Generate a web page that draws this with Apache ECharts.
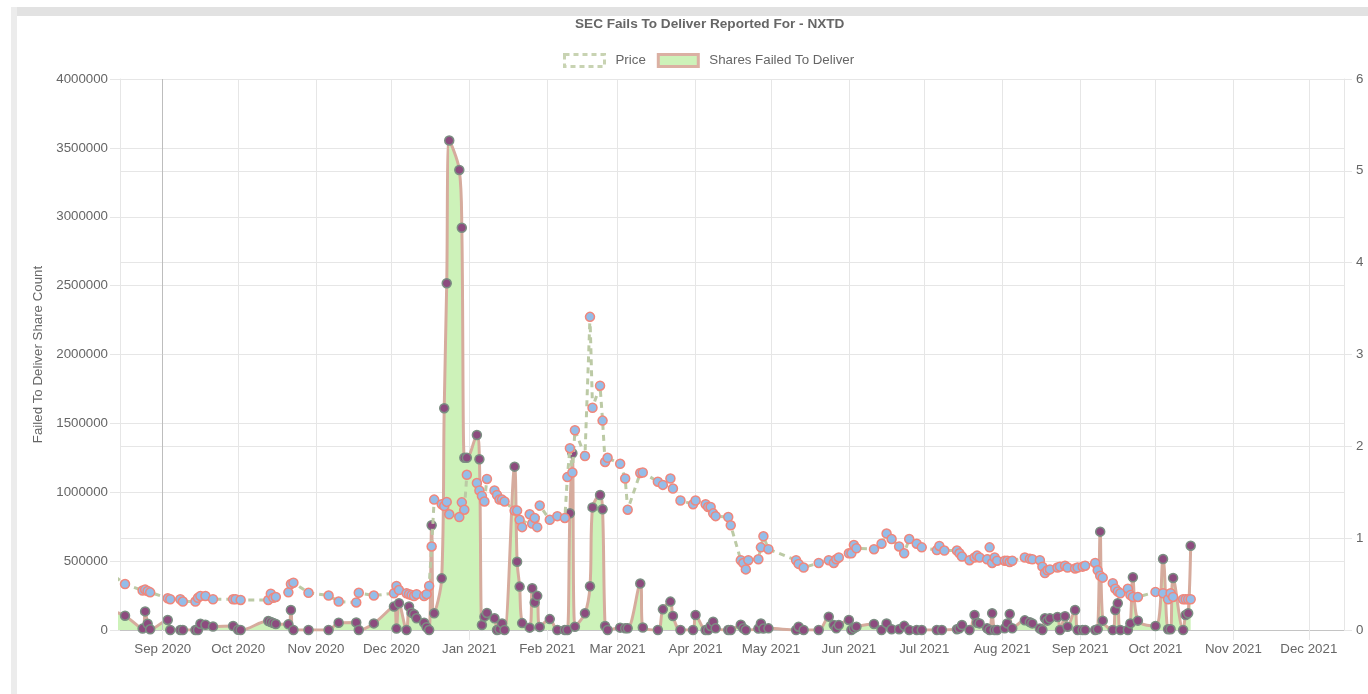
<!DOCTYPE html>
<html>
<head>
<meta charset="utf-8">
<script src="https://cdn.jsdelivr.net/npm/echarts@6/dist/echarts.min.js"></script>
<style>
html,body{margin:0;padding:0;background:#fff;}
#wrap{position:relative;width:1368px;height:694px;overflow:hidden;}
#topband{position:absolute;left:11px;top:7px;width:1357px;height:9px;background:#e2e2e2;}
#leftband{position:absolute;left:11px;top:7px;width:6px;height:687px;background:#ececec;}
#chart{position:absolute;left:0;top:0;width:1368px;height:694px;}
</style>
</head>
<body>
<div id="wrap"><div id="topband"></div><div id="leftband"></div><div id="chart"></div></div>
<script>
const chartTitle = 'SEC Fails To Deliver Reported For - NXTD';
const yAxisName = 'Failed To Deliver Share Count';
const monthNames = ['Jan','Feb','Mar','Apr','May','Jun','Jul','Aug','Sep','Oct','Nov','Dec'];
const xMin = '2020-08-15';
const xMax = '2021-12-15';
const referenceLineDate = '2020-09-01';

const ftdDates = ['2020-08-13','2020-08-17','2020-08-24','2020-08-25','2020-08-26','2020-08-27','2020-09-03','2020-09-04','2020-09-08','2020-09-09','2020-09-14','2020-09-15','2020-09-16','2020-09-18','2020-09-21','2020-09-29','2020-10-01','2020-10-02','2020-10-13','2020-10-14','2020-10-15','2020-10-16','2020-10-21','2020-10-22','2020-10-23','2020-10-29','2020-11-06','2020-11-10','2020-11-17','2020-11-18','2020-11-24','2020-12-02','2020-12-03','2020-12-04','2020-12-07','2020-12-08','2020-12-09','2020-12-10','2020-12-11','2020-12-14','2020-12-15','2020-12-16','2020-12-17','2020-12-18','2020-12-21','2020-12-22','2020-12-23','2020-12-24','2020-12-28','2020-12-29','2020-12-30','2020-12-31','2021-01-04','2021-01-05','2021-01-06','2021-01-07','2021-01-08','2021-01-11','2021-01-12','2021-01-13','2021-01-14','2021-01-15','2021-01-19','2021-01-20','2021-01-21','2021-01-22','2021-01-25','2021-01-26','2021-01-27','2021-01-28','2021-01-29','2021-02-02','2021-02-05','2021-02-08','2021-02-09','2021-02-10','2021-02-11','2021-02-12','2021-02-16','2021-02-18','2021-02-19','2021-02-22','2021-02-23','2021-02-24','2021-02-25','2021-03-02','2021-03-04','2021-03-05','2021-03-10','2021-03-11','2021-03-17','2021-03-19','2021-03-22','2021-03-23','2021-03-26','2021-03-31','2021-04-01','2021-04-05','2021-04-06','2021-04-07','2021-04-08','2021-04-09','2021-04-14','2021-04-15','2021-04-19','2021-04-20','2021-04-21','2021-04-26','2021-04-27','2021-04-28','2021-04-30','2021-05-11','2021-05-12','2021-05-14','2021-05-20','2021-05-24','2021-05-26','2021-05-27','2021-05-28','2021-06-01','2021-06-02','2021-06-03','2021-06-04','2021-06-11','2021-06-14','2021-06-16','2021-06-18','2021-06-21','2021-06-23','2021-06-25','2021-06-28','2021-06-30','2021-07-06','2021-07-08','2021-07-14','2021-07-15','2021-07-16','2021-07-19','2021-07-21','2021-07-22','2021-07-23','2021-07-26','2021-07-27','2021-07-28','2021-07-29','2021-07-30','2021-08-02','2021-08-03','2021-08-04','2021-08-05','2021-08-10','2021-08-12','2021-08-13','2021-08-16','2021-08-17','2021-08-18','2021-08-19','2021-08-20','2021-08-23','2021-08-24','2021-08-26','2021-08-27','2021-08-30','2021-08-31','2021-09-02','2021-09-03','2021-09-07','2021-09-08','2021-09-09','2021-09-10','2021-09-14','2021-09-15','2021-09-16','2021-09-17','2021-09-20','2021-09-21','2021-09-22','2021-09-24','2021-10-01','2021-10-04','2021-10-06','2021-10-07','2021-10-08','2021-10-12','2021-10-13','2021-10-14','2021-10-15'];
const ftdValues = [130000,104000,10000,135000,45000,5000,73000,0,0,0,0,0,45000,38000,25000,29000,2000,0,65000,58000,51000,44000,41000,145000,0,0,0,53000,55000,0,48000,170000,10000,194000,0,170000,126000,115000,85000,53000,20000,0,760000,121000,375000,1610000,2517000,3553000,3340000,2920000,1250000,1250000,1416000,1240000,36000,97000,124000,85000,0,6000,48000,0,1186000,496000,315000,50000,17000,303000,200000,248000,22000,79000,0,0,0,847000,1283000,24000,121000,317000,890000,980000,876000,29000,0,17000,12000,12000,337000,18000,0,150000,206000,102000,0,0,109000,0,0,29000,60000,12000,0,0,38000,12000,0,10000,48000,10000,12000,0,24000,0,0,97000,36000,12000,36000,73000,0,12000,24000,44000,0,48000,5000,5000,30000,0,0,0,0,0,5000,12000,36000,0,109000,53000,48000,12000,0,121000,0,0,12000,48000,116000,12000,70000,57000,48000,11000,0,85000,68000,85000,95000,0,100000,24000,145000,0,0,0,0,5000,714000,68000,0,145000,194000,0,0,48000,383000,68000,29000,515000,5000,5000,378000,0,109000,121000,612000];

const priceDates = ['2020-08-13','2020-08-17','2020-08-24','2020-08-25','2020-08-26','2020-08-27','2020-09-03','2020-09-04','2020-09-08','2020-09-09','2020-09-14','2020-09-15','2020-09-16','2020-09-18','2020-09-21','2020-09-29','2020-09-30','2020-10-02','2020-10-13','2020-10-14','2020-10-15','2020-10-16','2020-10-21','2020-10-22','2020-10-23','2020-10-29','2020-11-06','2020-11-10','2020-11-17','2020-11-18','2020-11-24','2020-12-02','2020-12-03','2020-12-04','2020-12-07','2020-12-08','2020-12-09','2020-12-10','2020-12-11','2020-12-14','2020-12-15','2020-12-16','2020-12-17','2020-12-18','2020-12-21','2020-12-22','2020-12-23','2020-12-24','2020-12-28','2020-12-29','2020-12-30','2020-12-31','2021-01-04','2021-01-05','2021-01-06','2021-01-07','2021-01-08','2021-01-11','2021-01-12','2021-01-13','2021-01-14','2021-01-15','2021-01-19','2021-01-20','2021-01-21','2021-01-22','2021-01-25','2021-01-26','2021-01-27','2021-01-28','2021-01-29','2021-02-02','2021-02-05','2021-02-08','2021-02-09','2021-02-10','2021-02-11','2021-02-12','2021-02-16','2021-02-18','2021-02-19','2021-02-22','2021-02-23','2021-02-24','2021-02-25','2021-03-02','2021-03-04','2021-03-05','2021-03-10','2021-03-11','2021-03-17','2021-03-19','2021-03-22','2021-03-23','2021-03-26','2021-03-31','2021-04-01','2021-04-05','2021-04-06','2021-04-07','2021-04-08','2021-04-09','2021-04-14','2021-04-15','2021-04-19','2021-04-20','2021-04-21','2021-04-22','2021-04-26','2021-04-27','2021-04-28','2021-04-30','2021-05-11','2021-05-12','2021-05-14','2021-05-20','2021-05-24','2021-05-26','2021-05-27','2021-05-28','2021-06-01','2021-06-02','2021-06-03','2021-06-04','2021-06-11','2021-06-14','2021-06-16','2021-06-18','2021-06-21','2021-06-23','2021-06-25','2021-06-28','2021-06-30','2021-07-06','2021-07-07','2021-07-09','2021-07-14','2021-07-15','2021-07-16','2021-07-19','2021-07-21','2021-07-22','2021-07-23','2021-07-26','2021-07-27','2021-07-28','2021-07-29','2021-07-30','2021-08-02','2021-08-03','2021-08-04','2021-08-05','2021-08-10','2021-08-12','2021-08-13','2021-08-16','2021-08-17','2021-08-18','2021-08-19','2021-08-20','2021-08-23','2021-08-24','2021-08-26','2021-08-27','2021-08-30','2021-08-31','2021-09-02','2021-09-03','2021-09-07','2021-09-08','2021-09-09','2021-09-10','2021-09-14','2021-09-15','2021-09-16','2021-09-17','2021-09-20','2021-09-21','2021-09-22','2021-09-24','2021-10-01','2021-10-04','2021-10-06','2021-10-07','2021-10-08','2021-10-12','2021-10-13','2021-10-14','2021-10-15'];
const priceValues = [0.58,0.50,0.43,0.44,0.425,0.41,0.345,0.335,0.335,0.31,0.31,0.35,0.37,0.37,0.335,0.335,0.335,0.327,0.327,0.395,0.35,0.36,0.41,0.50,0.515,0.405,0.375,0.31,0.30,0.405,0.375,0.40,0.48,0.435,0.40,0.39,0.38,0.37,0.39,0.37,0.39,0.48,0.91,1.42,1.37,1.35,1.395,1.26,1.23,1.39,1.31,1.69,1.60,1.52,1.46,1.40,1.645,1.52,1.47,1.42,1.42,1.40,1.30,1.30,1.20,1.12,1.26,1.16,1.22,1.12,1.355,1.20,1.24,1.22,1.665,1.98,1.715,2.175,1.895,3.41,2.42,2.66,2.28,1.83,1.875,1.81,1.65,1.31,1.71,1.715,1.615,1.58,1.65,1.54,1.41,1.37,1.41,1.37,1.34,1.34,1.27,1.24,1.23,1.14,0.76,0.73,0.66,0.76,0.77,0.90,1.02,0.88,0.76,0.72,0.68,0.73,0.76,0.73,0.77,0.79,0.835,0.835,0.925,0.89,0.88,0.94,1.05,0.99,0.91,0.835,0.99,0.94,0.90,0.87,0.915,0.865,0.865,0.835,0.80,0.76,0.79,0.81,0.79,0.77,0.90,0.73,0.79,0.755,0.755,0.755,0.74,0.755,0.79,0.775,0.77,0.76,0.69,0.62,0.65,0.66,0.68,0.69,0.70,0.68,0.67,0.68,0.69,0.70,0.73,0.65,0.59,0.57,0.51,0.45,0.42,0.40,0.45,0.38,0.36,0.36,0.415,0.40,0.335,0.40,0.36,0.335,0.335,0.335,0.335];

const FONT = '"Liberation Sans", Arial, Helvetica, sans-serif';
const GRID_COLOR = '#e6e6e6';
const LABEL_SIZE = 13.3;

const chart = echarts.init(document.getElementById('chart'), null, {renderer: 'canvas'});
chart.setOption({
  animation: false,
  textStyle: {fontFamily: FONT},
  title: {
    text: chartTitle, left: 570, top: 12,
    textStyle: {fontSize: 13.6, fontWeight: 'bold', color: '#666', fontFamily: FONT}
  },
  legend: {
    left: 558, top: 48, itemWidth: 40, itemHeight: 12, itemGap: 11,
    textStyle: {color: '#666', fontSize: LABEL_SIZE, fontFamily: FONT, padding: [0, 0, 0, 6]},
    data: [
      {name: 'Price', icon: 'rect', itemStyle: {color: '#ffffff', borderColor: '#c8d3b2', borderWidth: 3, borderType: [5, 4]}},
      {name: 'Shares Failed To Deliver', icon: 'rect', itemStyle: {color: '#cdf2b9', borderColor: '#dbb0a3', borderWidth: 3}}
    ]
  },
  grid: {left: 120, right: 24, top: 79, bottom: 64, containLabel: false},
  xAxis: {
    type: 'time', min: xMin, max: xMax,
    minInterval: 28 * 86400000, maxInterval: 31 * 86400000,
    axisLine: {show: true, lineStyle: {color: '#c4c4c4'}},
    axisTick: {show: true, length: 10, lineStyle: {color: GRID_COLOR}},
    splitLine: {show: true, lineStyle: {color: GRID_COLOR}},
    axisLabel: {
      color: '#666', fontSize: LABEL_SIZE, margin: 13, showMinLabel: false, showMaxLabel: false, hideOverlap: false,
      formatter: function (v) {
        const d = new Date(v);
        if (d.getDate() !== 1) return '';
        return monthNames[d.getMonth()] + ' ' + d.getFullYear();
      }
    }
  },
  yAxis: [
    {
      type: 'value', min: 0, max: 4000000, interval: 500000, position: 'left',
      name: yAxisName, nameLocation: 'middle', nameGap: 75,
      nameTextStyle: {color: '#666', fontSize: LABEL_SIZE, fontFamily: FONT},
      axisLine: {show: true, lineStyle: {color: GRID_COLOR}},
      axisTick: {show: true, length: 10, lineStyle: {color: GRID_COLOR}},
      axisLabel: {color: '#666', fontSize: LABEL_SIZE, margin: 12, formatter: v => String(v)},
      splitLine: {show: true, lineStyle: {color: GRID_COLOR}}
    },
    {
      type: 'value', min: 0, max: 6, interval: 1, position: 'right',
      axisLine: {show: true, lineStyle: {color: GRID_COLOR}},
      axisTick: {show: true, length: 8, lineStyle: {color: GRID_COLOR}},
      axisLabel: {color: '#666', fontSize: LABEL_SIZE, margin: 12, formatter: v => String(v)},
      splitLine: {show: true, lineStyle: {color: GRID_COLOR}}
    }
  ],
  series: [
    {
      name: 'Shares Failed To Deliver', type: 'line', yAxisIndex: 0,
      data: ftdDates.map((d, i) => [d, ftdValues[i]]),
      smooth: 0.35, symbol: 'circle', symbolSize: 9, showSymbol: true, showAllSymbol: true,
      clip: true, z: 2,
      lineStyle: {color: '#d6ab9d', width: 3},
      itemStyle: {color: '#8c4b7e', borderColor: '#7b8e82', borderWidth: 1.5},
      areaStyle: {color: '#cdf2b9', opacity: 1},
      markLine: {
        silent: true, symbol: 'none', label: {show: false},
        lineStyle: {color: '#bdbdbd', width: 1, type: 'solid'},
        data: [{xAxis: referenceLineDate}]
      }
    },
    {
      name: 'Price', type: 'line', yAxisIndex: 1,
      data: priceDates.map((d, i) => [d, priceValues[i]]),
      smooth: false, symbol: 'circle', symbolSize: 9, showSymbol: true, showAllSymbol: true,
      clip: true, z: 3,
      lineStyle: {color: '#bccaa5', width: 3, type: [6, 5]},
      itemStyle: {color: '#94bde9', borderColor: '#f0877c', borderWidth: 1.5}
    }
  ]
});
</script>
</body>
</html>
